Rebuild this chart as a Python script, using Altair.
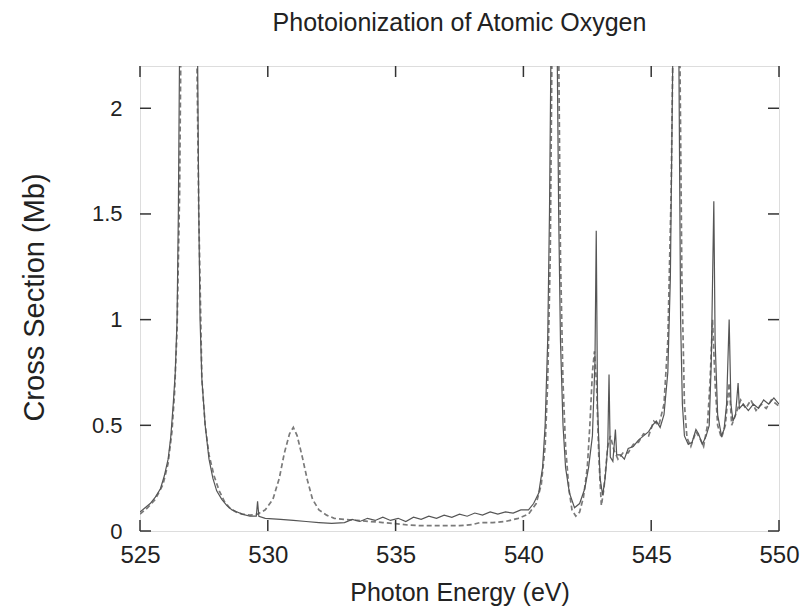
import altair as alt
import pandas as pd

# ---- data ----
solid_x = [525.0, 525.2, 525.4, 525.6, 525.8, 525.95, 526.1, 526.2, 526.3, 526.38, 526.45, 526.5, 526.55,
           526.9, 527.25, 527.3, 527.35, 527.42, 527.55, 527.7, 527.85, 528.0, 528.2, 528.4, 528.6, 528.8,
           529.0, 529.3, 529.55, 529.6, 529.65, 529.9, 530.5, 531.0, 531.5, 532.0, 532.5, 533.0,
           533.3, 533.6, 533.9, 534.2, 534.5, 534.8, 535.1, 535.4, 535.7, 536.0, 536.3, 536.6, 536.9,
           537.2, 537.5, 537.8, 538.1, 538.4, 538.7, 539.0, 539.3, 539.6, 539.9, 540.2, 540.4, 540.6,
           540.75, 540.85, 540.95, 541.02, 541.08, 541.2, 541.32, 541.38, 541.45, 541.55, 541.65, 541.8,
           542.0, 542.2, 542.4, 542.55, 542.7, 542.8, 542.85, 542.9, 543.0, 543.1, 543.2, 543.3, 543.35,
           543.4, 543.5, 543.6, 543.65, 543.8, 543.95, 544.1, 544.3, 544.5, 544.7, 544.9, 545.05, 545.2,
           545.35, 545.5, 545.65, 545.75, 545.85, 545.95, 546.08, 546.15, 546.22, 546.3, 546.45, 546.6,
           546.75, 546.85, 547.0, 547.15, 547.27, 547.35, 547.45, 547.5, 547.6, 547.75, 547.85, 547.95,
           548.05, 548.12, 548.2, 548.3, 548.4, 548.45, 548.6, 548.8, 549.0, 549.2, 549.4, 549.6, 549.8,
           550.0]
solid_y = [0.09, 0.11, 0.13, 0.16, 0.20, 0.26, 0.34, 0.44, 0.60, 0.75, 1.0, 1.5, 2.3,
           8.0, 2.3, 1.5, 1.0, 0.72, 0.50, 0.34, 0.25, 0.19, 0.15, 0.12, 0.10, 0.09,
           0.08, 0.07, 0.07, 0.14, 0.07, 0.06, 0.055, 0.05, 0.045, 0.04, 0.036, 0.04,
           0.055, 0.045, 0.06, 0.05, 0.065, 0.05, 0.06, 0.045, 0.065, 0.055, 0.07, 0.06, 0.075,
           0.065, 0.08, 0.07, 0.085, 0.075, 0.09, 0.08, 0.09, 0.085, 0.10, 0.10, 0.13, 0.18,
           0.30, 0.50, 0.90, 1.5, 2.3, 7.0, 2.3, 1.5, 0.90, 0.50, 0.30, 0.18,
           0.11, 0.13, 0.20, 0.30, 0.45, 0.80, 1.42, 0.60, 0.25, 0.17, 0.25, 0.40, 0.74,
           0.35, 0.33, 0.48, 0.36, 0.36, 0.34, 0.39, 0.40, 0.43, 0.45, 0.47, 0.50, 0.52,
           0.49, 0.55, 0.75, 1.2, 2.3, 8.0, 2.3, 1.0, 0.60, 0.45, 0.41, 0.42,
           0.48, 0.46, 0.41, 0.45, 0.50, 0.80, 1.56, 0.90, 0.55, 0.45, 0.48, 0.60,
           1.0, 0.60, 0.52, 0.55, 0.70, 0.58, 0.60, 0.57, 0.60, 0.58, 0.62, 0.60, 0.63,
           0.60]

dashed_x = [525.0, 525.3, 525.6, 525.9, 526.1, 526.25, 526.35, 526.45, 526.55, 526.6, 526.95, 527.22,
            527.3, 527.42, 527.55, 527.7, 527.9, 528.1, 528.3, 528.5, 528.75, 529.0, 529.3, 529.6,
            529.9, 530.2, 530.45, 530.65, 530.85, 531.0, 531.15, 531.35, 531.55, 531.75, 532.0, 532.3,
            532.6, 533.0, 533.5, 534.0, 534.5, 535.0, 535.5, 536.0, 536.5, 537.0, 537.5, 538.0, 538.3,
            538.8, 539.3, 539.8, 540.2, 540.5, 540.7, 540.85, 540.95, 541.05, 541.12, 541.25, 541.38,
            541.45, 541.55, 541.65, 541.78, 541.9, 542.05, 542.2, 542.35, 542.5, 542.6, 542.7, 542.78,
            542.86, 542.95, 543.05, 543.15, 543.3, 543.4, 543.55, 543.7, 543.9, 544.1, 544.3, 544.5,
            544.7, 544.9, 545.1, 545.3, 545.5, 545.65, 545.78, 545.85, 546.0, 546.12, 546.2, 546.3,
            546.4, 546.55, 546.75, 546.9, 547.05, 547.2, 547.3, 547.4, 547.5, 547.6, 547.75, 547.9,
            548.05, 548.15, 548.3, 548.5, 548.7, 548.9, 549.1, 549.3, 549.5, 549.7, 549.9, 550.0]
dashed_y = [0.08, 0.11, 0.15, 0.22, 0.32, 0.47, 0.65, 0.95, 1.6, 2.3, 8.0, 2.3,
            1.5, 0.72, 0.50, 0.36, 0.26, 0.19, 0.14, 0.11, 0.09, 0.08, 0.075, 0.08,
            0.10, 0.15, 0.25, 0.37, 0.46, 0.49, 0.45, 0.35, 0.24, 0.15, 0.10, 0.075,
            0.06, 0.055, 0.05, 0.045, 0.04, 0.035, 0.028, 0.025, 0.025, 0.025, 0.025, 0.03, 0.04,
            0.04, 0.045, 0.06, 0.08, 0.13, 0.22, 0.40, 0.70, 1.3, 2.3, 7.0, 2.3,
            1.3, 0.70, 0.40, 0.20, 0.10, 0.07, 0.09, 0.16, 0.30, 0.50, 0.75, 0.85,
            0.70, 0.35, 0.12, 0.20, 0.40, 0.45, 0.38, 0.34, 0.37, 0.37, 0.41, 0.42,
            0.46, 0.45, 0.52, 0.50, 0.60, 0.90, 1.6, 2.3, 8.0, 2.3, 1.2, 0.60,
            0.44, 0.40, 0.47, 0.44, 0.40, 0.50, 0.70, 1.0, 0.70, 0.50, 0.44, 0.50,
            0.70, 0.50, 0.55, 0.62, 0.58, 0.62, 0.57, 0.60, 0.58, 0.62, 0.60, 0.59]

x_ticks = [525, 530, 535, 540, 545, 550]
y_ticks = [0, 0.5, 1, 1.5, 2]

W, H = 639, 465
FONT = "Liberation Sans"
BORDER = "#333333"

solid_df = pd.DataFrame({"energy": solid_x, "sigma": solid_y})
dashed_df = pd.DataFrame({"energy": dashed_x, "sigma": dashed_y})
xt_df = pd.DataFrame({"v": x_ticks})
yt_df = pd.DataFrame({"v": y_ticks})

xscale = alt.Scale(domain=[525, 550], nice=False, zero=False)
yscale = alt.Scale(domain=[0, 2.2], nice=False)

xaxis = alt.Axis(values=x_ticks, format="d", ticks=False, domain=False, grid=False,
                 labelFlush=False, labelOverlap=False, labelPadding=12, labelFontSize=24,
                 labelFont=FONT, labelColor="#222222",
                 title="Photon Energy (eV)", titleFont=FONT, titleFontSize=25,
                 titleFontWeight="normal", titleColor="#222222", titleY=61,
                 titleBaseline="middle")
yaxis = alt.Axis(values=y_ticks, format="~g", ticks=False, domain=False, grid=False,
                 labelOverlap=False, labelPadding=18, labelFontSize=22, labelFont=FONT,
                 labelColor="#222222",
                 title="Cross Section (Mb)", titleFont=FONT, titleFontSize=29,
                 titleFontWeight="normal", titleColor="#222222",
                 titleX=-106, titleY=231, titleAngle=270, titleAlign="center",
                 titleBaseline="middle")

dashed = alt.Chart(dashed_df).mark_line(
    clip=True, color="#7a7a7a", strokeWidth=1.7, strokeDash=[5, 3]
).encode(
    x=alt.X("energy:Q", scale=xscale, axis=xaxis),
    y=alt.Y("sigma:Q", scale=yscale, axis=yaxis),
)

solid = alt.Chart(solid_df).mark_line(
    clip=True, color="#555555", strokeWidth=1.2
).encode(
    x=alt.X("energy:Q", scale=xscale),
    y=alt.Y("sigma:Q", scale=yscale),
)

tick_len = 11
bottom_ticks = alt.Chart(xt_df).mark_rule(color=BORDER, strokeWidth=1.5).encode(
    x=alt.X("v:Q", scale=xscale), y=alt.value(H), y2=alt.value(H - tick_len))
top_ticks = alt.Chart(xt_df).mark_rule(color=BORDER, strokeWidth=1.5).encode(
    x=alt.X("v:Q", scale=xscale), y=alt.value(0), y2=alt.value(tick_len))
left_ticks = alt.Chart(yt_df).mark_rule(color=BORDER, strokeWidth=1.5).encode(
    y=alt.Y("v:Q", scale=yscale), x=alt.value(0), x2=alt.value(tick_len))
right_ticks = alt.Chart(yt_df).mark_rule(color=BORDER, strokeWidth=1.5).encode(
    y=alt.Y("v:Q", scale=yscale), x=alt.value(W), x2=alt.value(W - tick_len))

chart = alt.layer(
    dashed, solid, bottom_ticks, top_ticks, left_ticks, right_ticks
).properties(
    width=W, height=H,
    autosize=alt.AutoSizeParams(type="none"),
    padding={"left": 140, "top": 66, "right": 24, "bottom": 78},
    title=alt.TitleParams("Photoionization of Atomic Oxygen", font=FONT, fontSize=25,
                          fontWeight="normal", color="#222222", anchor="middle", offset=29),
).configure_view(
    stroke=BORDER, strokeWidth=2.5
).configure(background="white")

chart.save("out.html", embed_options={"renderer": "svg", "actions": False})
